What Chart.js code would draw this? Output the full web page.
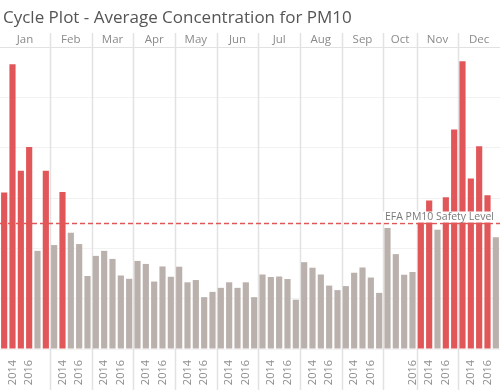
<!DOCTYPE html>
<html>
<head>
<meta charset="utf-8">
<script src="https://cdn.jsdelivr.net/npm/chart.js@4.4.1/dist/chart.umd.min.js"></script>
<style>
  html, body { margin: 0; padding: 0; background: #fff; }
  #wrap { width: 500px; height: 390px; position: relative; }
</style>
</head>
<body>
<div id="wrap"><canvas id="chart"></canvas></div>
<script>
// --- DATA ---
const months = ['Jan', 'Feb', 'Mar', 'Apr', 'May', 'Jun', 'Jul', 'Aug', 'Sep', 'Oct', 'Nov', 'Dec'];
const monthYears = [
    ['2013', '2014', '2015', '2016', '2017', '2018'],
    ['2013', '2014', '2015', '2016', '2017'],
    ['2013', '2014', '2015', '2016', '2017'],
    ['2013', '2014', '2015', '2016', '2017'],
    ['2013', '2014', '2015', '2016', '2017'],
    ['2013', '2014', '2015', '2016', '2017'],
    ['2013', '2014', '2015', '2016', '2017'],
    ['2013', '2014', '2015', '2016', '2017'],
    ['2013', '2014', '2015', '2016', '2017'],
    ['2013', '2014', '2015', '2016'],
    ['2013', '2014', '2015', '2016', '2017'],
    ['2013', '2014', '2015', '2016', '2017']
];
// average PM10 concentration per month / year
const pm10Avg = [
    [62.2, 113.1, 70.8, 80.3, 39.0, 70.8],
    [41.3, 62.4, 46.2, 41.7, 29.0],
    [37.0, 39.0, 35.8, 29.2, 27.9],
    [35.0, 33.8, 26.8, 32.8, 28.7],
    [32.7, 26.5, 27.4, 20.6, 22.7],
    [24.3, 26.5, 24.3, 26.5, 20.6],
    [29.6, 28.6, 28.8, 27.8, 19.6],
    [34.5, 32.3, 29.6, 25.2, 23.4],
    [25.0, 30.3, 32.4, 28.4, 22.3],
    [48.1, 37.7, 29.5, 30.6],
    [52.0, 59.0, 47.4, 60.3, 87.2],
    [114.3, 67.7, 80.6, 61.1, 44.4]
];
const shownYears = ['2014', '2016'];
const hiddenTicks = ['Jan 2018', 'Oct 2014'];
const safetyLevel = 50;
const safetyLabel = 'EFA PM10 Safety Level';
const chartTitle = 'Cycle Plot - Average Concentration for PM10';

// --- flatten into one category axis ---
const labels = [];
const values = [];
const monthOf = [];
months.forEach((m, i) => {
    monthYears[i].forEach((y, j) => {
        labels.push(y);
        values.push(pm10Avg[i][j]);
        monthOf.push(m);
    });
});

const RED = '#e15759';
const GREY = '#bab0ac';
const SEP = '#e2e2e2';

// panels, title, header, safety line
const cyclePlugin = {
    id: 'cycle',
    beforeDatasetsDraw(chart) {
        const { ctx, chartArea, scales } = chart;
        const x = scales.x;
        const half = (x.getPixelForValue(1) - x.getPixelForValue(0)) / 2;
        ctx.save();
        // top border of plot
        ctx.strokeStyle = SEP;
        ctx.lineWidth = 1;
        ctx.beginPath();
        ctx.moveTo(chartArea.left, chartArea.top + 0.5);
        ctx.lineTo(chartArea.right, chartArea.top + 0.5);
        ctx.stroke();
        // month separators + month names
        let idx = 0;
        ctx.font = '11.5px "Open Sans", sans-serif';
        ctx.fillStyle = '#8a8a8a';
        ctx.textAlign = 'center';
        ctx.textBaseline = 'middle';
        months.forEach((m, i) => {
            const start = x.getPixelForValue(idx) - half;
            idx += monthYears[i].length;
            const end = x.getPixelForValue(idx - 1) + half;
            ctx.fillText(m, (start + end) / 2, 40);
            if (i > 0) {
                const px = Math.round(start) + 0.5;
                ctx.strokeStyle = SEP;
                ctx.lineWidth = 1.5;
                ctx.beginPath();
                ctx.moveTo(px, 33);
                ctx.lineTo(px, chart.height);
                ctx.stroke();
            }
        });
        // title
        ctx.font = '17px "Open Sans", sans-serif';
        ctx.fillStyle = '#555';
        ctx.textAlign = 'left';
        ctx.textBaseline = 'alphabetic';
        ctx.fillText(chartTitle, 3, 23);
        ctx.restore();
    },
    afterDatasetsDraw(chart) {
        const { ctx, chartArea, scales } = chart;
        const py = Math.round(scales.y.getPixelForValue(safetyLevel)) + 0.5;
        ctx.save();
        ctx.strokeStyle = RED;
        ctx.lineWidth = 1.5;
        ctx.setLineDash([5, 3]);
        ctx.beginPath();
        ctx.moveTo(chartArea.left, py);
        ctx.lineTo(chartArea.right, py);
        ctx.stroke();
        ctx.setLineDash([]);
        ctx.font = '10.5px "Open Sans", sans-serif';
        const w = ctx.measureText(safetyLabel).width;
        const right = chartArea.right - 6;
        ctx.fillStyle = '#fff';
        ctx.fillRect(right - w - 2, py - 12, w + 4, 11);
        ctx.fillStyle = '#7a7a7a';
        ctx.textAlign = 'right';
        ctx.textBaseline = 'middle';
        ctx.fillText(safetyLabel, right, py - 6);
        ctx.restore();
    }
};

new Chart(document.getElementById('chart'), {
    type: 'bar',
    data: {
        labels: labels,
        datasets: [{
            data: values,
            backgroundColor: ctx => (ctx.raw > safetyLevel ? RED : GREY),
            barPercentage: 0.74,
            categoryPercentage: 1.0
        }]
    },
    options: {
        responsive: true,
        maintainAspectRatio: false,
        animation: false,
        layout: { padding: { top: 47, left: 0, right: 0, bottom: 0 } },
        plugins: {
            legend: { display: false },
            tooltip: { enabled: false }
        },
        scales: {
            x: {
                grid: { display: false },
                border: { display: false },
                afterFit: s => {
                    s.height = 41;
                    s.paddingLeft = 0;
                    s.paddingRight = 0;
                },
                ticks: {
                    autoSkip: false,
                    minRotation: 90,
                    maxRotation: 90,
                    padding: 3,
                    color: '#8c8c8c',
                    font: { family: '"Open Sans", sans-serif', size: 11 },
                    callback: function (val, i) {
                        const y = labels[i];
                        if (!shownYears.includes(y)) return '';
                        if (hiddenTicks.includes(monthOf[i] + ' ' + y)) return '';
                        return y;
                    }
                }
            },
            y: {
                min: 0,
                max: 120,
                afterFit: s => {
                    s.width = 0;
                    s.paddingTop = 0;
                    s.paddingBottom = 0;
                },
                border: { display: false },
                grid: { color: '#f2f2f2', drawTicks: false },
                ticks: { display: false, stepSize: 20 }
            }
        }
    },
    plugins: [cyclePlugin]
});
</script>
</body>
</html>
